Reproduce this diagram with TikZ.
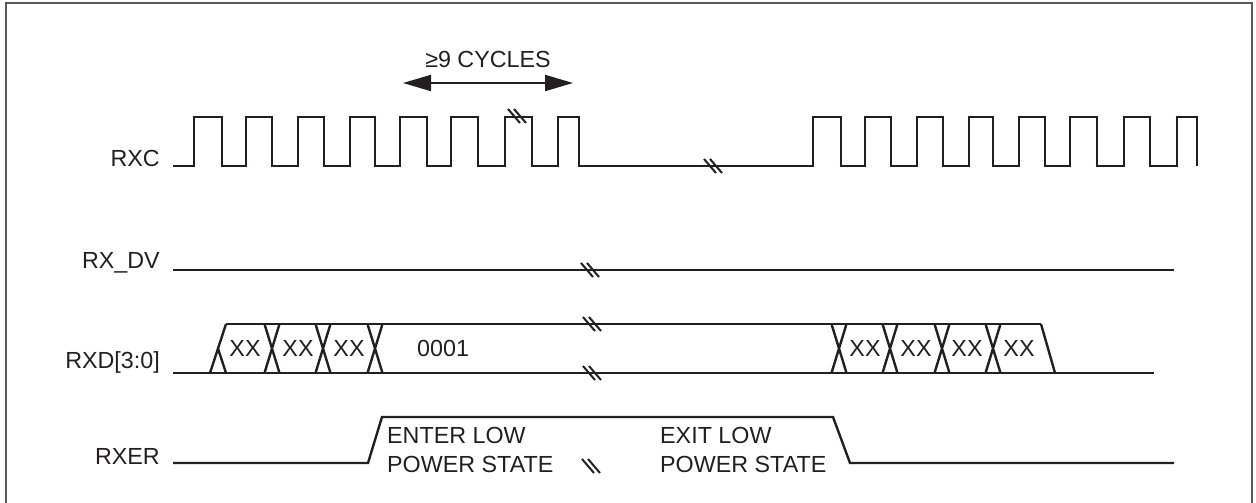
\documentclass[tikz,border=0pt]{standalone}
\usepackage{fontspec}
\setmainfont{Liberation Sans}
\usetikzlibrary{arrows.meta}
\definecolor{ink}{HTML}{231F20}
\tikzset{
  sig/.style={line width=2.4pt, line join=miter, color=ink},
  brkline/.style={line width=2pt, color=ink},
  lbl/.style={anchor=base east, inner sep=0pt, text=ink},
  txt/.style={inner sep=0pt, text=ink},
}
% break mark: two short slashes centred at (x,y)
\newcommand\brkmark[2]{%
  \draw[brkline] (#1-9,#2-7) -- (#1+3,#2+7) (#1-3,#2-7) -- (#1+9,#2+7);}
\begin{document}
\begin{tikzpicture}[x=1pt, y=-1pt, font=\fontsize{23.3}{28}\selectfont, line cap=butt]
\useasboundingbox (0,0) rectangle (1256,503);
\draw[line width=1.4pt, gray!70!black] (6,510) |- (1252,3) -- (1252,510);
% signal names
\node[lbl] (rxc) at (160,166) {RXC};
\node[lbl] (rxdv) at (160,268) {RX\_DV};
\node[lbl] (rxd) at (160,368) {RXD[3:0]};
\node[lbl] (rxer) at (160,464) {RXER};
% RXC
\draw[sig] (173,166)
  \foreach \r/\f in {194/222,246/272,298/324,350/375,400/427,451/478,505/532,558/579}
    { -- (\r,166) -- (\r,117) -- (\f,117) -- (\f,166) }
  \foreach \r/\f in {813/841,865/891,917/943,969/993,1019/1045,1070/1097,1124/1150,1177/1197}
    { -- (\r,166) -- (\r,117) -- (\f,117) -- (\f,166) };
\brkmark{517}{116}
\brkmark{713}{166}
% >=9 cycles
\coordinate (cycL) at (403,83);
\coordinate (cycR) at (573,83);
\draw[line width=2pt, ink, {Triangle[length=28pt,width=16pt]}-{Triangle[length=28pt,width=16pt]}] (cycL) -- (cycR);
\node[txt, anchor=base] (cyc) at (488,67) {≥9 CYCLES};
% RX_DV
\draw[sig] (173,270) -- (1174,270);
\brkmark{590}{270}
% RXD[3:0]
\draw[sig] (173,373) -- (1154,373);
\draw[sig] (226,324) -- (1041,324);
\draw[sig] (210,373) -- (226,324) (218,348.5) -- (226,373);
\foreach \c in {272,323,375,839,890,942,993}
  \draw[sig] (\c-7.5,324) -- (\c+7.5,373) (\c-7.5,373) -- (\c+7.5,324);
\draw[sig] (1041,324) -- (1055,373);
\foreach \c [count=\i] in {245,298,349,865,916,967,1019}
  \node[txt] (xx\i) at (\c,348.5) {XX};
\node[txt, anchor=west] (val) at (417,348) {0001};
\brkmark{592}{324}
\brkmark{592}{373}
% RXER
\draw[sig] (173,463) -- (368,463) -- (382,417) -- (833,417) -- (850,463) -- (1174,463);
\node[txt, anchor=base west] (enter1) at (387,443) {ENTER LOW};
\node[txt, anchor=base west] (enter2) at (387,472) {POWER STATE};
\node[txt, anchor=base west] (exit1) at (660,443) {EXIT LOW};
\node[txt, anchor=base west] (exit2) at (660,472) {POWER STATE};
\brkmark{591}{466}
\end{tikzpicture}
\end{document}
